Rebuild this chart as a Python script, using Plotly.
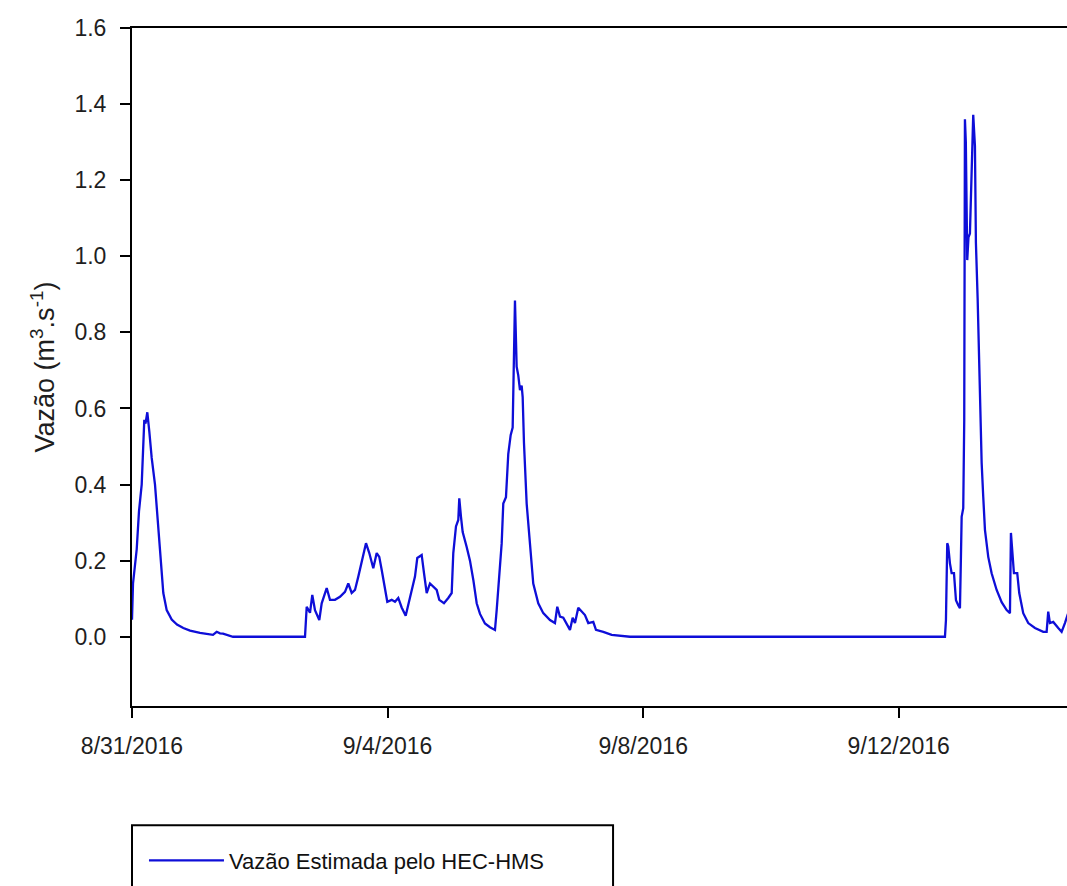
import pandas as pd
import plotly.graph_objects as go

# Hours elapsed since 2016-08-31 00:00 and estimated discharge (m3/s)
start = "2016-08-31 00:00"
hours = [
    0.0, 0.38, 1.77, 2.63, 3.64, 4.02, 4.62, 5.07, 5.75, 6.50, 7.40, 8.64, 9.88, 10.89,
    11.76, 13.03, 14.91, 16.9, 19.27, 21.8, 25.54, 30.42, 31.81, 33.05, 34.18, 37.93, 64.98,
    65.62, 66.86, 67.72, 68.73, 70.35, 71.25, 73.13, 74.37, 76.24, 78.12, 80.00, 81.24,
    82.52, 83.76, 85.00, 86.27, 87.89, 89.13, 90.63, 91.91, 92.88, 93.78, 95.02, 95.89,
    97.54, 98.78, 100.02, 101.29, 102.80, 103.78, 105.05, 106.29, 107.16, 108.81, 109.67,
    110.69, 111.93, 113.43, 114.44, 115.42, 117.18, 118.80, 120.08, 120.68, 121.69, 122.56,
    122.93, 123.57, 124.21, 125.71, 126.95, 128.19, 129.47, 130.71, 132.58, 134.46, 136.34,
    136.98, 137.96, 138.86, 139.46, 140.47, 141.33, 142.23, 142.98, 143.21, 143.85, 144.48,
    145.09, 145.73, 146.36, 146.74, 147.23, 148.24, 149.48, 150.72, 152.60, 154.48, 157.00,
    158.87, 159.74, 160.75, 161.99, 164.51, 165.52, 166.39, 167.63, 168.90, 170.14, 171.38,
    173.26, 174.27, 177.02, 180.17, 187.04, 305.36,
    305.73, 306.22, 306.60, 307.23, 307.87, 308.74, 309.49, 310.35, 310.99, 311.36, 311.63,
    312.23, 312.60, 312.86, 313.20, 313.73, 314.20, 314.74, 315.98, 316.62, 316.99, 317.63,
    318.12, 318.76, 319.14, 319.74, 320.38, 321.62, 322.89, 324.77, 326.65, 328.53, 329.77,
    330.14, 330.78, 331.27, 332.51, 333.26, 334.76, 336.64, 339.16, 342.28, 343.55, 344.15,
    344.79, 346.03, 347.91, 349.18, 350.42, 351.55,
]
vazao = [
    0.045, 0.14, 0.23, 0.33, 0.40, 0.49, 0.57, 0.56, 0.59, 0.54, 0.47, 0.40, 0.29, 0.18,
    0.115, 0.07, 0.045, 0.032, 0.023, 0.016, 0.010, 0.005, 0.013, 0.009, 0.008, 0.0, 0.0,
    0.079, 0.063, 0.11, 0.07, 0.044, 0.088, 0.128, 0.097, 0.097, 0.105, 0.118, 0.14,
    0.115, 0.123, 0.158, 0.20, 0.246, 0.22, 0.18, 0.22, 0.21, 0.176, 0.13, 0.092,
    0.097, 0.092, 0.102, 0.077, 0.055, 0.084, 0.115, 0.158, 0.207, 0.215, 0.168,
    0.115, 0.14, 0.131, 0.123, 0.097, 0.088, 0.102, 0.115, 0.22, 0.29, 0.307,
    0.364, 0.315, 0.275, 0.236, 0.20, 0.15, 0.088, 0.06, 0.035, 0.025, 0.018,
    0.07, 0.176, 0.246, 0.35, 0.367, 0.48, 0.53, 0.55, 0.648, 0.884, 0.71,
    0.687, 0.648, 0.66, 0.63, 0.51, 0.35, 0.236, 0.14, 0.088, 0.062, 0.044,
    0.036, 0.079, 0.053, 0.05, 0.018, 0.05, 0.036, 0.076, 0.066, 0.057, 0.036,
    0.039, 0.018, 0.013, 0.005, 0.0, 0.0,
    0.044, 0.246, 0.237, 0.193, 0.167, 0.167, 0.096, 0.083, 0.075, 0.21, 0.315,
    0.338, 0.57, 1.36, 1.30, 0.99, 1.05, 1.06, 1.372, 1.29, 1.035, 0.89,
    0.72, 0.56, 0.457, 0.368, 0.281, 0.21, 0.167, 0.123, 0.091, 0.07, 0.062,
    0.273, 0.20, 0.167, 0.167, 0.115, 0.062, 0.036, 0.023, 0.013, 0.013, 0.066,
    0.036, 0.039, 0.023, 0.013, 0.036, 0.06,
]

x_tick_dates = ["2016-08-31", "2016-09-04", "2016-09-08", "2016-09-12"]
x_tick_labels = ["8/31/2016", "9/4/2016", "9/8/2016", "9/12/2016"]
y_tick_vals = [0.0, 0.2, 0.4, 0.6, 0.8, 1.0, 1.2, 1.4, 1.6]
x_range = ["2016-08-31 00:00", "2016-09-14 15:12"]
y_range = [-0.182, 1.6]

times = pd.Timestamp(start) + pd.to_timedelta(hours, unit="h")

FONT = "Liberation Sans, Arial, sans-serif"
TXT = "#1e1e1e"

fig = go.Figure()
fig.add_trace(go.Scatter(
    x=times, y=vazao, mode="lines",
    line=dict(color="#0E0ED8", width=2.3),
    name="Vazão Estimada pelo HEC-HMS",
))

fig.update_layout(
    width=1067, height=886,
    margin=dict(l=132, r=0, t=28, b=180),
    paper_bgcolor="white", plot_bgcolor="white",
    font=dict(family=FONT, color=TXT, size=23),
    showlegend=True,
    legend=dict(
        x=0.0128, y=-0.197, xanchor="left", yanchor="top",
        bgcolor="rgba(0,0,0,0)", borderwidth=0,
        font=dict(family=FONT, size=22, color="#111111"),
        itemwidth=75,
    ),
    shapes=[dict(
        type="rect", xref="paper", yref="paper",
        x0=0.0, x1=0.5145, y0=-0.176, y1=-0.35,
        line=dict(color="black", width=2), fillcolor="rgba(0,0,0,0)",
    )],
)

fig.update_xaxes(
    type="date", range=x_range,
    tickvals=x_tick_dates, ticktext=x_tick_labels,
    showgrid=False, zeroline=False,
    showline=True, linecolor="black", linewidth=2, mirror=True,
    ticks="outside", ticklen=10, tickwidth=2, tickcolor="black",
    tickfont=dict(family=FONT, size=23, color=TXT),
    ticklabelstandoff=8,
)
fig.update_yaxes(
    range=y_range, tickvals=y_tick_vals, tickformat=".1f",
    showgrid=False, zeroline=False,
    showline=True, linecolor="black", linewidth=2, mirror=False,
    ticks="outside", ticklen=10, tickwidth=2, tickcolor="black",
    tickfont=dict(family=FONT, size=23, color=TXT),
    ticklabelstandoff=9,
    title=dict(text="Vazão (m<sup>3</sup>.s<sup>-1</sup>)",
               font=dict(family=FONT, size=27, color=TXT), standoff=12),
)

fig.write_html("out.html", config={"displayModeBar": False},
               post_script="document.body.style.margin='0';")
